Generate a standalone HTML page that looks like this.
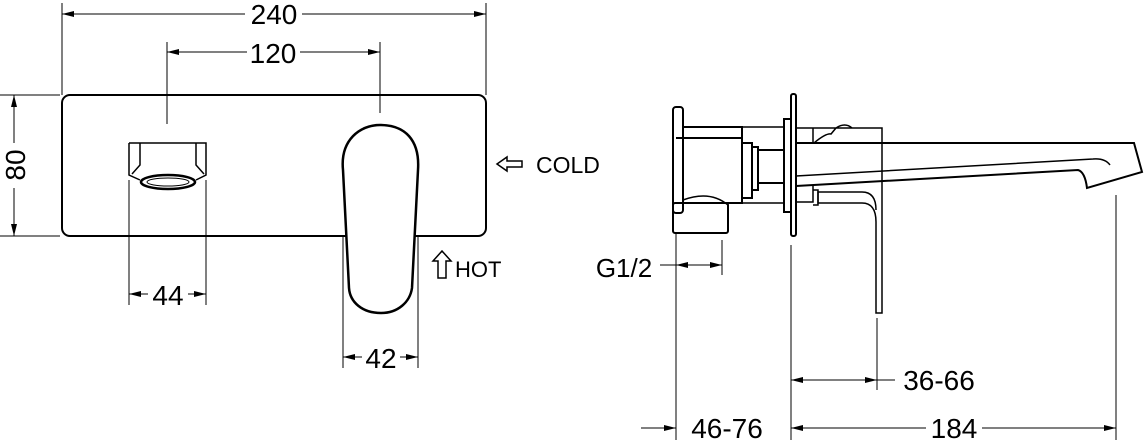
<!DOCTYPE html>
<html><head><style>html,body{margin:0;padding:0;background:#fff}svg{display:block}text{font-family:"Liberation Sans",Arial,sans-serif;fill:#000}</style></head>
<body>
<svg width="1144" height="446" viewBox="0 0 1144 446" xmlns="http://www.w3.org/2000/svg">
<defs>
<marker id="a" viewBox="0 0 12 6" refX="12" refY="3" markerWidth="12" markerHeight="6" orient="auto-start-reverse" markerUnits="userSpaceOnUse"><path d="M0,0 L12,3 L0,6 z" fill="#000"/></marker>
</defs>
<g stroke="#000" fill="none" stroke-width="1">
<!-- 240 -->
<line x1="62" y1="3" x2="62" y2="95"/><line x1="486" y1="3" x2="486" y2="95"/>
<line x1="62" y1="14" x2="245" y2="14" marker-start="url(#a)"/><line x1="302" y1="14" x2="486" y2="14" marker-end="url(#a)"/>
<!-- 120 -->
<line x1="167" y1="42" x2="167" y2="124"/><line x1="380" y1="42" x2="380" y2="113"/>
<line x1="167" y1="52" x2="247" y2="52" marker-start="url(#a)"/><line x1="300" y1="52" x2="380" y2="52" marker-end="url(#a)"/>
<!-- 80 -->
<line x1="0" y1="95" x2="60" y2="95"/><line x1="0" y1="236" x2="60" y2="236"/>
<line x1="14" y1="95" x2="14" y2="143" marker-start="url(#a)"/><line x1="14" y1="188" x2="14" y2="236" marker-end="url(#a)"/>
<!-- plate -->
<rect x="62" y="95" width="424" height="141" rx="8" stroke-width="2"/>
<!-- nozzle -->
<path d="M129,143 L206,143 L206,175 L196,180 M129,143 L129,175 L140,180 M140,143 L140,165 L132,174 M196,143 L196,165 L204,174" stroke-width="1.5"/>
<ellipse cx="168" cy="182" rx="27" ry="7" stroke-width="2.5"/>
<ellipse cx="168" cy="182" rx="21" ry="4"/>
<!-- 44 -->
<line x1="129" y1="180" x2="129" y2="305"/><line x1="206" y1="180" x2="206" y2="305"/>
<line x1="129" y1="294" x2="148" y2="294" marker-start="url(#a)"/><line x1="188" y1="294" x2="206" y2="294" marker-end="url(#a)"/>
<!-- handle -->
<path d="M343,170 C340,140 360,125 380,125 C405,125 420,140 418,170 L412,288 C410,302 398,313 381,313 C362,313 350,302 349,288 Z" stroke-width="2.5" fill="#fff"/>
<line x1="343" y1="236" x2="343" y2="368"/><line x1="418" y1="236" x2="418" y2="368"/>
<line x1="343" y1="357" x2="362" y2="357" marker-start="url(#a)"/><line x1="400" y1="357" x2="418" y2="357" marker-end="url(#a)"/>
<!-- cold arrow -->
<path d="M497,164 L507,157 L507,161 L522,161 L522,167 L507,167 L507,171 Z" stroke-width="1.5"/>
<!-- hot arrow -->
<path d="M442,251 L451,261 L446,261 L446,278 L438,278 L438,261 L433,261 Z" stroke-width="1.5"/>

<!-- side view -->
<rect x="673" y="107" width="10" height="106" rx="3" stroke-width="2"/>
<path d="M683,127 L742,127 L742,138 M676,138 L742,138 L742,203 L683,203" stroke-width="2"/>
<path d="M742,143 L752,143 L752,198 L742,198" stroke-width="2"/>
<rect x="752" y="147" width="6" height="43" stroke-width="2"/>
<rect x="758" y="150" width="26" height="33" stroke-width="2"/>
<path d="M742,127 L784,127 M742,203 L784,203" stroke-width="1.5"/>
<path d="M683,200 Q710,190 728,205" stroke-width="1.5"/>
<rect x="673" y="203" width="55" height="30" rx="2" stroke-width="2"/>
<rect x="784" y="119" width="7" height="93" stroke-width="2"/>
<rect x="791" y="94" width="5" height="142" rx="2" stroke-width="2"/>
<path d="M796,128 L882,128 L882,313 L876,313 L876,222 Q876,203 862,203 L818,203 L818,192 L862,192 Q876,192 876,210 M813,128 L813,143 M814,143 Q826,133 831,134 L836,128 Q845,122 852,128" stroke-width="1.5"/>
<path d="M796,143 L1134,143 L1142,172 L1087,188 Q1085,172 1078,170 L796,186" stroke-width="2"/>
<path d="M796,176 L1093,159 Q1105,158 1110,165" stroke-width="1.5"/>
<path d="M796,186 L796,202 L813,202 L813,186 M813,190 L818,190 L818,205 L813,205" stroke-width="1.5"/>
<!-- G1/2 -->
<line x1="676" y1="233" x2="676" y2="440"/><line x1="722" y1="240" x2="722" y2="275"/>
<line x1="660" y1="265" x2="676" y2="265"/>
<line x1="676" y1="265" x2="722" y2="265" marker-start="url(#a)" marker-end="url(#a)"/>
<!-- 36-66 -->
<line x1="791" y1="245" x2="791" y2="440"/><line x1="877" y1="318" x2="877" y2="390"/>
<line x1="791" y1="380" x2="877" y2="380" marker-start="url(#a)" marker-end="url(#a)"/>
<line x1="877" y1="380" x2="895" y2="380"/>
<!-- 46-76 / 184 -->
<line x1="641" y1="428" x2="676" y2="428" marker-end="url(#a)"/>
<line x1="791" y1="428" x2="926" y2="428" marker-start="url(#a)"/>
<line x1="982" y1="428" x2="1116" y2="428" marker-end="url(#a)"/>
<line x1="1116" y1="195" x2="1116" y2="440"/>
</g>
<g font-size="28">
<text x="274" y="24" text-anchor="middle">240</text>
<text x="273" y="63" text-anchor="middle">120</text>
<text x="168" y="305" text-anchor="middle">44</text>
<text x="381" y="368" text-anchor="middle">42</text>
<text x="15" y="165" text-anchor="middle" transform="rotate(-90 15 165) translate(0 10)">80</text>
<text x="624" y="277" text-anchor="middle" font-size="26">G1/2</text>
<text x="939" y="390" text-anchor="middle">36-66</text>
<text x="727" y="438" text-anchor="middle">46-76</text>
<text x="954" y="438" text-anchor="middle">184</text>
</g>
<text x="536" y="173" font-size="23">COLD</text>
<text x="455" y="277" font-size="22">HOT</text>
</svg>
</body></html>
